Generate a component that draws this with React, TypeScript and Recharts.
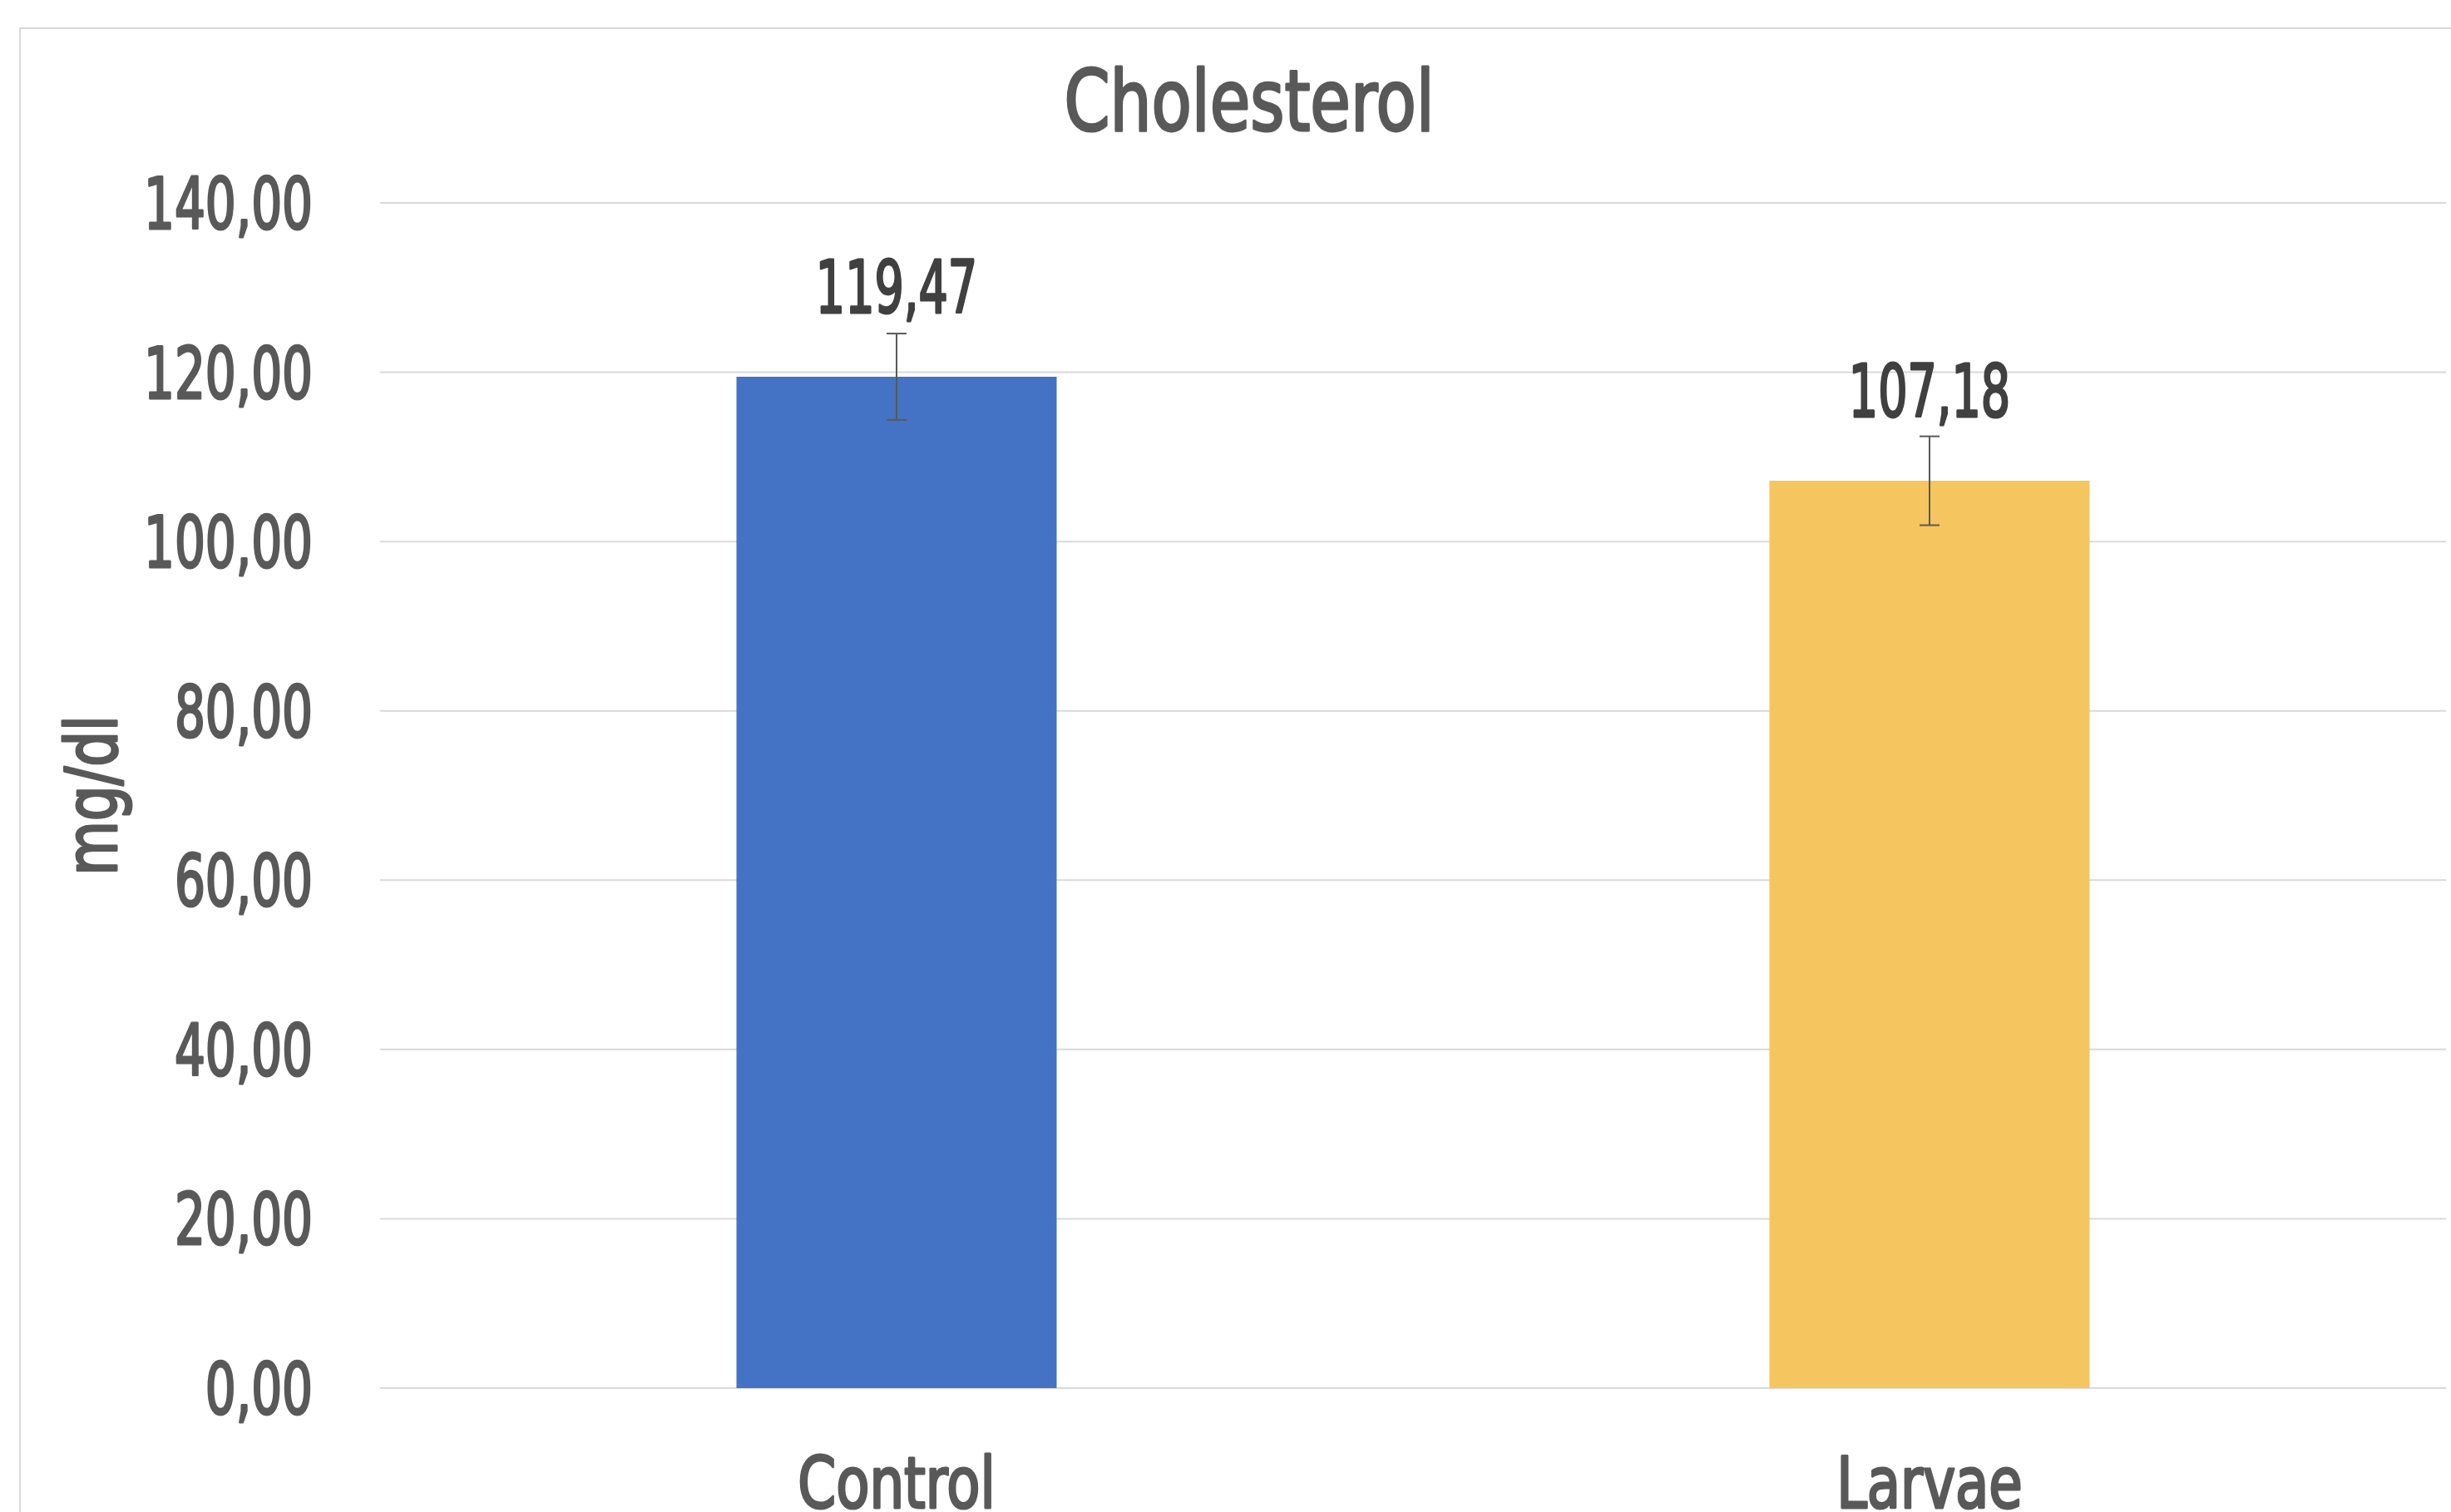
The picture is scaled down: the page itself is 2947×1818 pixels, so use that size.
import React from "react";
import { BarChart, Bar, XAxis, YAxis, CartesianGrid, Cell, ErrorBar, LabelList } from "recharts";

const groups = ["Control", "Larvae"];
const means = [119.47, 107.18];
const errors = [5.1, 5.25];
const colors = ["#4472C4", "#F5C55F"];
const yTicks = [0, 20, 40, 60, 80, 100, 120, 140];

const data = groups.map((g, i) => ({ group: g, value: means[i], err: errors[i] }));

const FONT = "'DejaVu Sans Condensed', 'DejaVu Sans', sans-serif";
const fmt = (v: number) => v.toFixed(2).replace(".", ",");

// the original font is a narrow, fairly heavy DIN face: squeeze the text and thicken it a bit
const NText = ({ x, y, sx, rot, fill, children, ...rest }: any) => (
  <text
    x={0}
    y={0}
    transform={`translate(${x},${y})${rot ? ` rotate(${rot})` : ""} scale(${sx},1)`}
    fontFamily={FONT}
    fill={fill}
    stroke={fill}
    strokeWidth={3}
    strokeLinejoin="round"
    {...rest}
  >
    {children}
  </text>
);

const YTick = (props: any) => {
  const { x, y, payload } = props;
  return (
    <NText x={x} y={y} sx={0.75} dy="0.36em" textAnchor="end" fill="#595959" fontSize={86}>
      {fmt(payload.value)}
    </NText>
  );
};

const XTick = (props: any) => {
  const { x, y, payload } = props;
  return (
    <NText x={x} y={y} sx={0.85} dy={142} textAnchor="middle" fill="#595959" fontSize={86}>
      {payload.value}
    </NText>
  );
};

const ValueLabel = (props: any) => {
  const { x, y, width, value } = props;
  return (
    <NText x={x + width / 2} y={y - 77} sx={0.71} textAnchor="middle" fill="#404040" fontSize={87}>
      {fmt(value)}
    </NText>
  );
};

const AxisTitle = (props: any) => {
  const { viewBox } = props;
  return (
    <NText
      x={viewBox.x + 140}
      y={viewBox.y + viewBox.height / 2}
      rot={-90}
      sx={0.88}
      textAnchor="middle"
      fill="#595959"
      fontSize={85}
    >
      mg/dl
    </NText>
  );
};

export default function App() {
  return (
    <div style={{ position: "absolute", left: 0, top: 0, width: 2947, height: 1818, background: "#fff", overflow: "hidden" }}>
      <div style={{ position: "absolute", left: 23, top: 33, width: 3000, height: 2000, border: "2px solid #d9d9d9" }} />
      <div style={{ position: "absolute", left: 0, top: 0 }}>
        <BarChart width={2947} height={1818} data={data} margin={{ top: 244, right: 6, left: 0, bottom: 0 }} barCategoryGap="34.5%">
          <NText x={1502} y={157} sx={0.86} textAnchor="middle" fill="#595959" fontSize={102}>
            Cholesterol
          </NText>
          <CartesianGrid vertical={false} stroke="#d9d9d9" strokeWidth={2} />
          <XAxis dataKey="group" axisLine={false} tickLine={false} tickSize={0} height={149} tick={<XTick />} interval={0} />
          <YAxis
            domain={[0, 140]}
            ticks={yTicks}
            width={457}
            axisLine={false}
            tickLine={false}
            tickSize={0}
            tickMargin={81}
            tick={<YTick />}
            label={<AxisTitle />}
          />
          <Bar dataKey="value" isAnimationActive={false}>
            {data.map((d, i) => (
              <Cell key={d.group} fill={colors[i]} />
            ))}
            <ErrorBar dataKey="err" width={12} stroke="#595959" strokeWidth={2} />
            <LabelList dataKey="value" content={<ValueLabel />} />
          </Bar>
        </BarChart>
      </div>
    </div>
  );
}
